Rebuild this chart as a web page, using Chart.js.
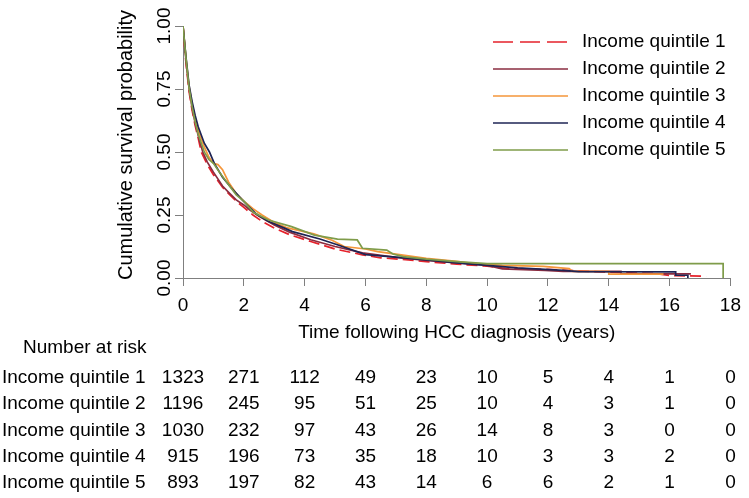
<!DOCTYPE html>
<html>
<head>
<meta charset="utf-8">
<script src="https://cdn.jsdelivr.net/npm/chart.js@4.4.1/dist/chart.umd.min.js"></script>
<style>
  html, body { margin: 0; padding: 0; background: #fff; }
</style>
</head>
<body>
<canvas id="km" width="749" height="498"></canvas>
<script>
// survival curves (years, cumulative survival)
var q1Time = [0,0.05,0.1,0.2,0.3,0.4,0.5,0.6,0.8,1.0,1.3,1.5,1.75,2.0,2.3,2.6,3.0,3.5,4.2,5.0,5.9,6.5,7.2,8.0,9.0,10.0,10.6,12.0,13.0,14.0,15.5,16.0,17.2];
var q1Surv = [1,0.92,0.85,0.74,0.665,0.605,0.555,0.50,0.45,0.41,0.36,0.335,0.305,0.28,0.25,0.225,0.198,0.172,0.145,0.115,0.092,0.08,0.074,0.065,0.055,0.047,0.038,0.034,0.028,0.023,0.018,0.01,0.007];

var q2Time = [0,0.1,0.2,0.3,0.4,0.5,0.65,0.8,1.0,1.3,1.5,1.75,2.0,2.2,2.5,3.0,3.5,4.2,5.0,5.9,7.0,8.0,9.0,10.0,10.5,11.9,12.5,14.4,14.4,16.7];
var q2Surv = [1,0.86,0.75,0.675,0.615,0.565,0.50,0.46,0.42,0.365,0.34,0.31,0.29,0.27,0.245,0.21,0.182,0.152,0.125,0.10,0.082,0.07,0.06,0.05,0.036,0.03,0.026,0.026,0.016,0.016];

var q3Time = [0,0.1,0.2,0.3,0.4,0.5,0.7,0.85,1.0,1.15,1.3,1.5,1.75,2.0,2.3,2.6,3.0,3.4,4.3,4.9,5.3,6.0,6.4,7.0,8.0,9.0,9.5,10.5,11.85,12.7,12.8,14.0,14.0,15.8];
var q3Surv = [1,0.87,0.76,0.69,0.635,0.585,0.52,0.48,0.455,0.45,0.43,0.38,0.335,0.305,0.275,0.25,0.22,0.20,0.175,0.15,0.125,0.115,0.105,0.095,0.078,0.066,0.058,0.05,0.046,0.037,0.026,0.026,0.015,0.015];

var q4Time = [0,0.1,0.2,0.3,0.4,0.5,0.7,0.87,1.03,1.3,1.57,1.95,2.4,2.8,3.3,3.6,4.5,5.1,6.0,7.0,8.0,9.0,10.0,11.0,12.5,13.0,16.2,16.2,16.6,16.6];
var q4Surv = [1,0.875,0.765,0.70,0.645,0.60,0.535,0.50,0.455,0.40,0.36,0.31,0.255,0.225,0.2,0.184,0.155,0.131,0.093,0.083,0.072,0.06,0.05,0.04,0.03,0.025,0.024,0.011,0.011,0];

var q5Time = [0,0.1,0.2,0.3,0.4,0.5,0.7,0.85,1.0,1.2,1.5,1.75,2.0,2.32,2.81,3.57,4.32,5.08,5.73,5.9,6.7,6.9,7.24,8.0,9.0,10.0,17.76,17.76];
var q5Surv = [1,0.87,0.755,0.68,0.62,0.57,0.50,0.47,0.455,0.42,0.37,0.33,0.305,0.26,0.23,0.204,0.17,0.154,0.151,0.118,0.111,0.095,0.085,0.075,0.065,0.057,0.057,0];

var seriesNames = ['Income quintile 1','Income quintile 2','Income quintile 3','Income quintile 4','Income quintile 5'];

// number at risk table
var riskTimes = [0,2,4,6,8,10,12,14,16,18];
var q1Risk = [1323,271,112,49,23,10,5,4,1,0];
var q2Risk = [1196,245,95,51,25,10,4,3,1,0];
var q3Risk = [1030,232,97,43,26,14,8,3,0,0];
var q4Risk = [915,196,73,35,18,10,3,3,2,0];
var q5Risk = [893,197,82,43,14,6,6,2,1,0];

var yTicks = [0,0.25,0.5,0.75,1];

var FONT = "'Liberation Sans', Arial, sans-serif";
var axisColor = '#7f7f7f';
var lineColors = ['#e5222b','#8a2c40','#f5963a','#1e2454','#7f9c4a'];
var lineDashes = [[11,5],[],[],[],[]];

var times = [q1Time,q2Time,q3Time,q4Time,q5Time];
var survs = [q1Surv,q2Surv,q3Surv,q4Surv,q5Surv];
var risks = [q1Risk,q2Risk,q3Risk,q4Risk,q5Risk];

var datasets = seriesNames.map(function(name, i){
  return {
    label: name,
    data: times[i].map(function(t, j){ return {x: t, y: survs[i][j]}; }),
    borderColor: lineColors[i],
    borderWidth: 1.7,
    borderDash: lineDashes[i],
    pointRadius: 0,
    fill: false,
    tension: 0,
    order: 5 - i
  };
});

// y title, y tick labels (rotated), legend and number-at-risk table
var extras = {
  id: 'extras',
  afterDraw: function(chart){
    var ctx = chart.ctx;
    var xs = chart.scales.x, ys = chart.scales.y;
    ctx.save();
    ctx.fillStyle = '#000';

    // y axis title
    ctx.font = '20px ' + FONT;
    ctx.textAlign = 'center';
    ctx.textBaseline = 'middle';
    ctx.save();
    ctx.translate(126, 145);
    ctx.rotate(-Math.PI/2);
    ctx.fillText('Cumulative survival probability', 0, 0);
    ctx.restore();

    // y tick labels
    ctx.font = '19px ' + FONT;
    yTicks.forEach(function(v){
      ctx.save();
      ctx.translate(165, ys.getPixelForValue(v));
      ctx.rotate(-Math.PI/2);
      ctx.fillText(v.toFixed(2), 0, 0);
      ctx.restore();
    });

    // legend
    seriesNames.forEach(function(name, i){
      var yy = 42 + i*27;
      ctx.save();
      ctx.strokeStyle = lineColors[i];
      ctx.lineWidth = 1.6;
      ctx.setLineDash(i === 0 ? [20,7] : []);
      ctx.beginPath();
      ctx.moveTo(493, yy);
      ctx.lineTo(568, yy);
      ctx.stroke();
      ctx.restore();
      ctx.textAlign = 'left';
      ctx.fillText(name, 582, yy);
    });

    // risk table
    ctx.textAlign = 'left';
    ctx.fillText('Number at risk', 23, 348);
    seriesNames.forEach(function(name, i){
      var yy = 378 + i*26.2;
      ctx.textAlign = 'left';
      ctx.fillText(name, 2, yy);
      ctx.textAlign = 'center';
      riskTimes.forEach(function(t, j){
        ctx.fillText(String(risks[i][j]), xs.getPixelForValue(t), yy);
      });
    });
    ctx.restore();
  }
};

var myChart = new Chart(document.getElementById('km'), {
  type: 'line',
  data: { datasets: datasets },
  options: {
    responsive: false,
    animation: false,
    layout: { padding: { left: 0, top: 26, right: 13, bottom: 0 } },
    plugins: { legend: { display: false }, tooltip: { enabled: false } },
    scales: {
      x: {
        type: 'linear',
        min: 0,
        max: 18,
        ticks: { stepSize: 2, color: '#000', font: { size: 19, family: FONT }, padding: 8, maxRotation: 0 },
        grid: { drawOnChartArea: false, tickLength: 8, color: axisColor },
        border: { color: axisColor, width: 1 },
        title: { display: true, text: 'Time following HCC diagnosis (years)', color: '#000',
                 font: { size: 19, family: FONT }, padding: { top: 0, bottom: 154 } },
        afterFit: function(s){ s.height = 220; }
      },
      y: {
        min: 0,
        max: 1,
        ticks: { stepSize: 0.25, color: 'rgba(0,0,0,0)', font: { size: 19, family: FONT } },
        grid: { drawOnChartArea: false, tickLength: 8, color: axisColor },
        border: { color: axisColor, width: 1 },
        afterFit: function(s){ s.width = 183; }
      }
    }
  },
  plugins: [extras]
});
</script>
</body>
</html>
